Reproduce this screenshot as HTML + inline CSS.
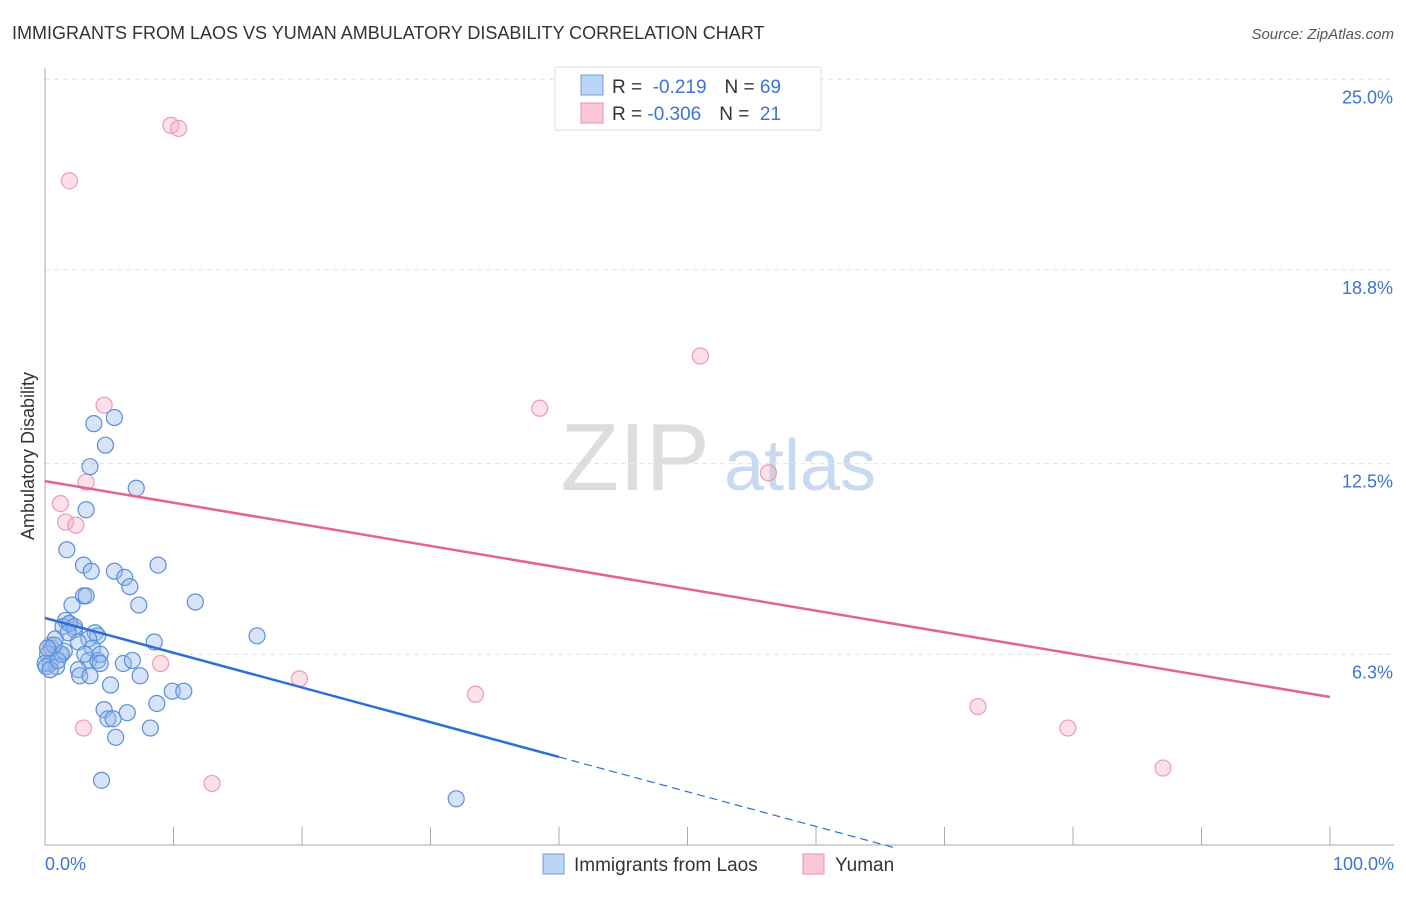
<!DOCTYPE html>
<html><head><meta charset="utf-8"><style>
body{margin:0;background:#fff;font-family:"Liberation Sans",sans-serif;}
svg text{font-family:"Liberation Sans",sans-serif;}
</style></head><body>
<svg id="c" width="1406" height="892" xmlns="http://www.w3.org/2000/svg">
<text x="12" y="39" font-size="18" fill="#333">IMMIGRANTS FROM LAOS VS YUMAN AMBULATORY DISABILITY CORRELATION CHART</text>
<text x="1394" y="39" font-size="15" fill="#555" text-anchor="end" font-style="italic">Source: ZipAtlas.com</text>
<text x="635" y="490" font-size="96" fill="#ddd" font-family="Liberation Serif" text-anchor="middle">ZIP</text>
<text x="800" y="490" font-size="72" fill="#c8daf2" text-anchor="middle">atlas</text>
<text transform="translate(34,456) rotate(-90)" font-size="18" fill="#333" text-anchor="middle">Ambulatory Disability</text>
<g id="grid"></g><g id="pts"></g><g id="lines"></g>
<g>
<rect x="555" y="67" width="266" height="63" fill="#fff" stroke="#ddd"/>
<rect x="581" y="75" width="22" height="20" fill="#bcd4f5" stroke="#6d9de0"/>
<rect x="581" y="103" width="22" height="20" fill="#f9c8d6" stroke="#e98fac"/>
<text x="612" y="93" font-size="19" fill="#333">R = <tspan fill="#3b74d6">&#160;-0.219</tspan><tspan dx="18">N = </tspan><tspan fill="#3b74d6">69</tspan></text>
<text x="612" y="120" font-size="19" fill="#333">R = <tspan fill="#3b74d6">-0.306</tspan><tspan dx="18">N = </tspan><tspan fill="#3b74d6">&#160;21</tspan></text>
</g>
<g>
<rect x="543" y="854" width="21" height="20" fill="#bcd4f5" stroke="#6d9de0"/>
<text x="574" y="871" font-size="19" fill="#333">Immigrants from Laos</text>
<rect x="803" y="854" width="21" height="20" fill="#f9c8d6" stroke="#e98fac"/>
<text x="835" y="871" font-size="19" fill="#333">Yuman</text>
</g>
<text x="45" y="870" font-size="18" fill="#3b74d6">0.0%</text>
<text x="1394" y="870" font-size="18" fill="#3b74d6" text-anchor="end">100.0%</text>
</svg>
<script>
const yTicks=[6.3,12.5,18.8,25.0];
const yTickLabels=["6.3%","12.5%","18.8%","25.0%"];
const xTicks=[0,10,20,30,40,50,60,70,80,90,100];
const laosX=[3.8,5.4,4.7,3.5,7.1,3.2,1.7,3.0,3.6,5.4,6.2,6.6,8.8,3.0,3.2,7.3,11.7,2.1,1.6,1.9,2.3,1.4,3.9,4.1,3.4,2.6,8.5,16.5,3.7,1.2,0.5,0.2,0.4,0.9,0.0,1.3,3.4,4.1,2.6,2.7,4.3,6.1,6.8,7.4,5.1,9.9,10.8,8.7,4.6,4.9,5.3,6.4,5.5,8.2,4.4,32.0,0.8,1.9,0.1,0.4,1.5,3.1,2.3,4.3,3.5,1.0,0.7,0.2,1.8];
const laosY=[13.8,14.0,13.1,12.4,11.7,11.0,9.7,9.2,9.0,9.0,8.8,8.5,9.2,8.2,8.2,7.9,8.0,7.9,7.4,7.3,7.1,7.2,7.0,6.9,6.8,6.7,6.7,6.9,6.5,6.3,6.5,6.3,6.0,5.9,6.0,6.3,6.1,6.1,5.8,5.6,6.3,6.0,6.1,5.6,5.3,5.1,5.1,4.7,4.5,4.2,4.2,4.4,3.6,3.9,2.2,1.6,6.8,7.3,5.9,5.8,6.4,6.3,7.2,6.0,5.6,6.1,6.6,6.5,7.0];
const yumanX=[9.8,10.4,1.9,51.0,38.5,4.6,56.3,3.2,1.2,1.6,2.4,9.0,19.8,33.5,72.6,79.6,87.0,3.0,13.0,0.4,0.2];
const yumanY=[23.5,23.4,21.7,16.0,14.3,14.4,12.2,11.9,11.2,10.6,10.5,6.0,5.5,5.0,4.6,3.9,2.6,3.9,2.1,6.6,6.5];
const laosTrend=[7.48,-0.113];
const yumanTrend=[11.93,-0.0702];
const NS="http://www.w3.org/2000/svg";
const X=v=>45+v*12.85, Y=v=>848-v*30.75;
function mk(tag,a,p){const e=document.createElementNS(NS,tag);for(const k in a)e.setAttribute(k,a[k]);p.appendChild(e);return e;}
const g=document.getElementById('grid');
yTicks.forEach((t,i)=>{
 const l=mk('line',{x1:45,x2:1394,y1:Y(t)-0,y2:Y(t),stroke:'#e2e2e2','stroke-dasharray':'5,4'},g);
 
 
 const tx=mk('text',{x:1393,y:Y(t)+24,'font-size':18,fill:'#3b74d6','text-anchor':'end'},g);
 tx.textContent=yTickLabels[i];
 
 
});
const ax=mk('line',{x1:45,x2:45,y1:68,y2:845,stroke:'#aaa'},g);


const bx=mk('line',{x1:45,x2:1394,y1:845,y2:845,stroke:'#aaa'},g);


xTicks.forEach(t=>{
 const l=mk('line',{x1:X(t),x2:X(t),y1:827,y2:845,stroke:'#aaa'},g);
 
 
});
const p=document.getElementById('pts');
yumanX.forEach((v,i)=>{
 const c=mk('circle',{cx:X(v),cy:Y(yumanY[i]),r:8,fill:'rgba(245,170,195,0.35)',stroke:'#eb9ab4','stroke-width':1.2},p);
 
 
});
laosX.forEach((v,i)=>{
 const c=mk('circle',{cx:X(v),cy:Y(laosY[i]),r:8,fill:'rgba(150,185,235,0.38)',stroke:'#5b8fdc','stroke-width':1.2},p);
 
 
});
const L=document.getElementById('lines');
const f=(t,x)=>t[0]+t[1]*x;
const b1=mk('line',{x1:X(0),y1:Y(f(laosTrend,0)),x2:X(40),y2:Y(f(laosTrend,40)),stroke:'#2d6fd8','stroke-width':2.5},L);


const xEnd=-laosTrend[0]/laosTrend[1];
const b2=mk('line',{x1:X(40),y1:Y(f(laosTrend,40)),x2:X(xEnd),y2:Y(0),stroke:'#2d6fd8','stroke-width':1.2,'stroke-dasharray':'8,5'},L);


const p1=mk('line',{x1:X(0),y1:Y(f(yumanTrend,0)),x2:X(100),y2:Y(f(yumanTrend,100)),stroke:'#e2648f','stroke-width':2.5},L);


</script>
</body></html>
